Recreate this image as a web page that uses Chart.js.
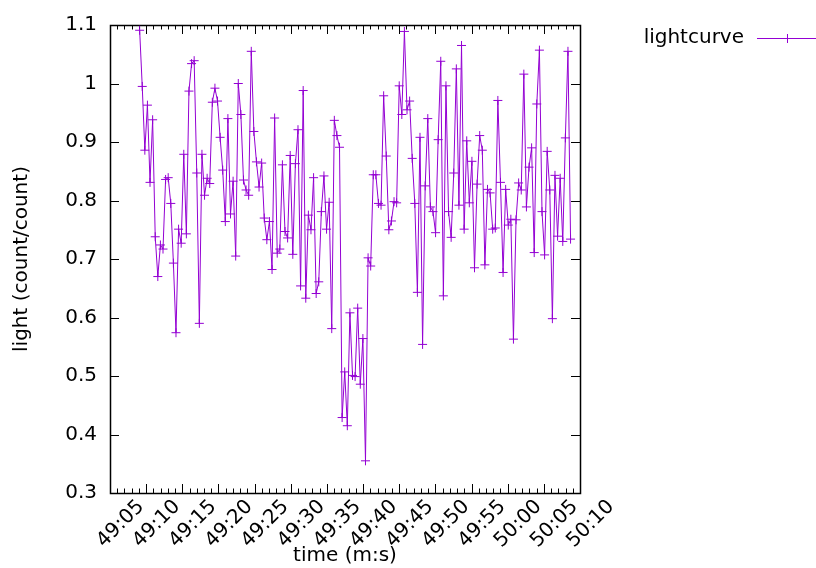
<!DOCTYPE html>
<html>
<head>
<meta charset="utf-8">
<script src="https://cdn.jsdelivr.net/npm/chart.js@4.4.0/dist/chart.umd.min.js"></script>
<style>
  html, body { margin: 0; padding: 0; background: #fff; }
</style>
</head>
<body>
<canvas id="lc" width="816" height="568"></canvas>
<script>
// light values (count/count) in time order
const lightValues = [
  1.091, 0.995, 0.886, 0.963, 0.831, 0.938, 0.738, 0.670, 0.724, 0.717,
  0.836, 0.839, 0.795, 0.693, 0.574, 0.751, 0.727, 0.879, 0.743, 0.987,
  1.034, 1.039, 0.847, 0.590, 0.879, 0.809, 0.838, 0.829, 0.968, 0.992,
  0.970, 0.908, 0.852, 0.764, 0.940, 0.777, 0.833, 0.705, 1.000, 0.947,
  0.835, 0.818, 0.809, 1.055, 0.918, 0.866, 0.823, 0.864, 0.770, 0.733,
  0.764, 0.682, 0.941, 0.710, 0.717, 0.861, 0.747, 0.736, 0.877, 0.708,
  0.863, 0.921, 0.654, 0.988, 0.633, 0.775, 0.750, 0.839, 0.641, 0.661,
  0.781, 0.842, 0.751, 0.797, 0.581, 0.937, 0.911, 0.891, 0.429, 0.507,
  0.415, 0.608, 0.501, 0.499, 0.616, 0.486, 0.564, 0.355, 0.702, 0.688,
  0.844, 0.844, 0.795, 0.792, 0.979, 0.876, 0.750, 0.765, 0.798, 0.796,
  0.996, 0.947, 1.089, 0.955, 0.970, 0.872, 0.795, 0.643, 0.908, 0.554,
  0.825, 0.940, 0.789, 0.781, 0.745, 0.904, 1.038, 0.637, 0.996, 0.781,
  0.737, 0.847, 1.025, 0.792, 1.065, 0.751, 0.902, 0.796, 0.867, 0.685,
  0.828, 0.911, 0.886, 0.690, 0.819, 0.813, 0.751, 0.753, 0.971, 0.831,
  0.677, 0.819, 0.758, 0.768, 0.563, 0.767, 0.830, 0.818, 1.016, 0.789,
  0.857, 0.890, 0.711, 0.965, 1.057, 0.781, 0.707, 0.884, 0.818, 0.598,
  0.843, 0.739, 0.838, 0.730, 0.907, 1.055, 0.734
];

// first sample at 49:09.1 (seconds after the hour) and the sampling step
const startTime = 2949.1;
const cadence = 0.359;

const timeTicks = ['49:05', '49:10', '49:15', '49:20', '49:25', '49:30', '49:35',
  '49:40', '49:45', '49:50', '49:55', '50:00', '50:05', '50:10'];
const lightTicks = [0.3, 0.4, 0.5, 0.6, 0.7, 0.8, 0.9, 1.0, 1.1];

function toSeconds(label) {
  const parts = label.split(':');
  return parseInt(parts[0]) * 60 + parseInt(parts[1]);
}
const timeTickValues = timeTicks.map(toSeconds);

const points = lightValues.map((v, i) => ({ x: startTime + i * cadence, y: v }));

const FONT = { family: 'DejaVu Sans', size: 20 };
const PURPLE = '#9400d3';

// gnuplot style frame with inward ticks on all four sides
const frameTicks = {
  id: 'frameTicks',
  beforeDatasetsDraw(chart) {
    const { ctx, chartArea: a, scales: { x, y } } = chart;
    ctx.save();
    ctx.strokeStyle = '#000';
    ctx.lineWidth = 1;
    ctx.beginPath();
    for (let s = x.min; s <= x.max; s++) {
      const px = Math.round(x.getPixelForValue(s)) + 0.5;
      const len = timeTickValues.includes(s) ? 9 : 4.5;
      ctx.moveTo(px, a.bottom); ctx.lineTo(px, a.bottom - len);
      ctx.moveTo(px, a.top); ctx.lineTo(px, a.top + len);
    }
    lightTicks.forEach(v => {
      const py = Math.round(y.getPixelForValue(v)) + 0.5;
      ctx.moveTo(a.left, py); ctx.lineTo(a.left + 9, py);
      ctx.moveTo(a.right, py); ctx.lineTo(a.right - 9, py);
    });
    ctx.stroke();
    ctx.lineWidth = 1.5;
    ctx.strokeRect(Math.round(a.left) + 0.5, Math.round(a.top) + 0.5,
      Math.round(a.right - a.left), Math.round(a.bottom - a.top));
    ctx.restore();
  },
  afterDraw(chart) {
    // key at top right: label, then line sample with a cross
    const ctx = chart.ctx;
    const ds = chart.data.datasets[0];
    const ly = 38;
    ctx.save();
    ctx.font = FONT.size + 'px ' + FONT.family;
    ctx.fillStyle = '#000';
    ctx.textAlign = 'right';
    ctx.textBaseline = 'middle';
    ctx.fillText(ds.label, 744, ly);
    ctx.strokeStyle = PURPLE;
    ctx.lineWidth = 1;
    ctx.beginPath();
    ctx.moveTo(757, ly + 0.5); ctx.lineTo(816, ly + 0.5);
    ctx.moveTo(787.5, ly - 4); ctx.lineTo(787.5, ly + 5);
    ctx.stroke();
    ctx.restore();
  }
};

new Chart(document.getElementById('lc'), {
  type: 'line',
  data: {
    datasets: [{
      label: 'lightcurve',
      data: points,
      borderColor: PURPLE,
      backgroundColor: PURPLE,
      borderWidth: 1,
      pointStyle: 'cross',
      pointRadius: 4.5,
      pointBorderWidth: 1,
      pointBorderColor: PURPLE,
      tension: 0,
      fill: false
    }]
  },
  options: {
    responsive: false,
    animation: false,
    devicePixelRatio: 1,
    layout: { padding: { top: 24, right: 236, left: 0, bottom: 0 } },
    plugins: { legend: { display: false }, tooltip: { enabled: false } },
    scales: {
      x: {
        type: 'linear',
        min: timeTickValues[0],
        max: timeTickValues[timeTickValues.length - 1],
        afterBuildTicks: s => { s.ticks = timeTickValues.map(v => ({ value: v })); },
        afterFit: s => { s.height = 75; },
        grid: { display: false, drawTicks: false },
        border: { display: false },
        ticks: {
          minRotation: 45,
          maxRotation: 45,
          autoSkip: false,
          labelOffset: 31,
          padding: 2,
          color: '#000',
          font: FONT,
          callback: v => timeTicks[timeTickValues.indexOf(v)]
        },
        title: { display: true, text: 'time (m:s)', color: '#000', font: FONT, padding: { top: 0, bottom: 0 } }
      },
      y: {
        min: 0.3,
        max: 1.1,
        afterBuildTicks: s => { s.ticks = lightTicks.map(v => ({ value: v })); },
        afterFit: s => { s.width = 110; },
        grid: { display: false, drawTicks: false },
        border: { display: false },
        ticks: { color: '#000', font: FONT, padding: 13, callback: v => String(+v.toFixed(2)) },
        title: { display: true, text: 'light (count/count)', color: '#000', font: FONT, padding: { top: 10, bottom: 0 } }
      }
    }
  },
  plugins: [frameTicks]
});
</script>
</body>
</html>
